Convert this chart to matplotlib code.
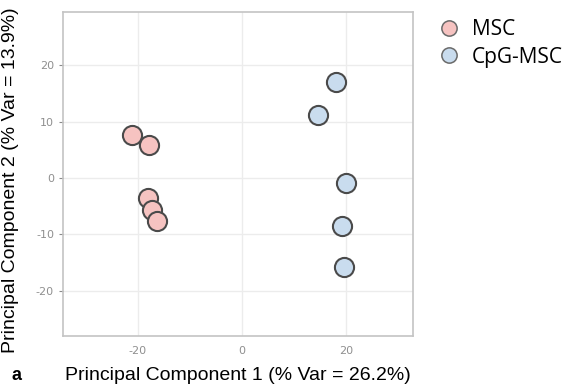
import matplotlib.pyplot as plt
from matplotlib.lines import Line2D

plt.rcParams["axes.unicode_minus"] = False

# PCA scores per group
msc_pc1 = [-21.2, -17.9, -18.1, -17.3, -16.4]
msc_pc2 = [7.6, 5.9, -3.5, -5.7, -7.6]
cpg_pc1 = [18.1, 14.6, 20.0, 19.2, 19.7]
cpg_pc2 = [17.0, 11.1, -0.9, -8.5, -15.7]

groups = ["MSC", "CpG-MSC"]
colors = ["#f6c3c1", "#c9dcee"]
ticks = [-20, 0, 20]
yticks = [-20, -10, 0, 10, 20]

fig = plt.figure(figsize=(5.67, 3.89), dpi=100)
ax = fig.add_axes([63/567, 1 - 336/389, 350/567, 324/389])

ax.scatter(msc_pc1, msc_pc2, s=190, c=colors[0], edgecolors="#4a4a4a",
           linewidths=1.5, zorder=3)
ax.scatter(cpg_pc1, cpg_pc2, s=190, c=colors[1], edgecolors="#4a4a4a",
           linewidths=1.5, zorder=3)

ax.set_xlim(-34.4, 32.9)
ax.set_ylim(-28.0, 29.4)
ax.set_xticks(ticks)
ax.set_yticks(yticks)
ax.grid(color="#ececec", linewidth=1.0, zorder=0)
ax.set_axisbelow(True)
for s in ax.spines.values():
    s.set_color("#c4c4c4")
    s.set_linewidth(1.2)
ax.tick_params(axis="both", labelsize=8, labelcolor="#8f8f8f", color="#8a8a8a",
               length=3, width=0.8)
ax.tick_params(axis="x", length=0, pad=7)

ax.set_xlabel("Principal Component 1 (% Var = 26.2%)", family="Liberation Sans",
              fontsize=14, labelpad=8)
ax.set_ylabel("Principal Component 2 (% Var = 13.9%)", family="Liberation Sans",
              fontsize=14)
ax.yaxis.set_label_coords(-0.125, 0.482)
fig.text(11/567, 1 - 375/389, "a", family="Liberation Sans", fontsize=13,
         fontweight="bold", va="center")

handles = [Line2D([], [], marker="o", linestyle="", markersize=11,
                  markerfacecolor=c, markeredgecolor="#6a6a6a", markeredgewidth=1.1)
           for c in colors]
fig.legend(handles, groups, loc="upper left", bbox_to_anchor=(428/567, 1 - 11/389),
           frameon=False, prop={"family": "Open Sans", "size": 15},
           handletextpad=0.5, handlelength=1.2, labelspacing=0.3, borderaxespad=0)

fig.savefig("out.png", dpi=100)
